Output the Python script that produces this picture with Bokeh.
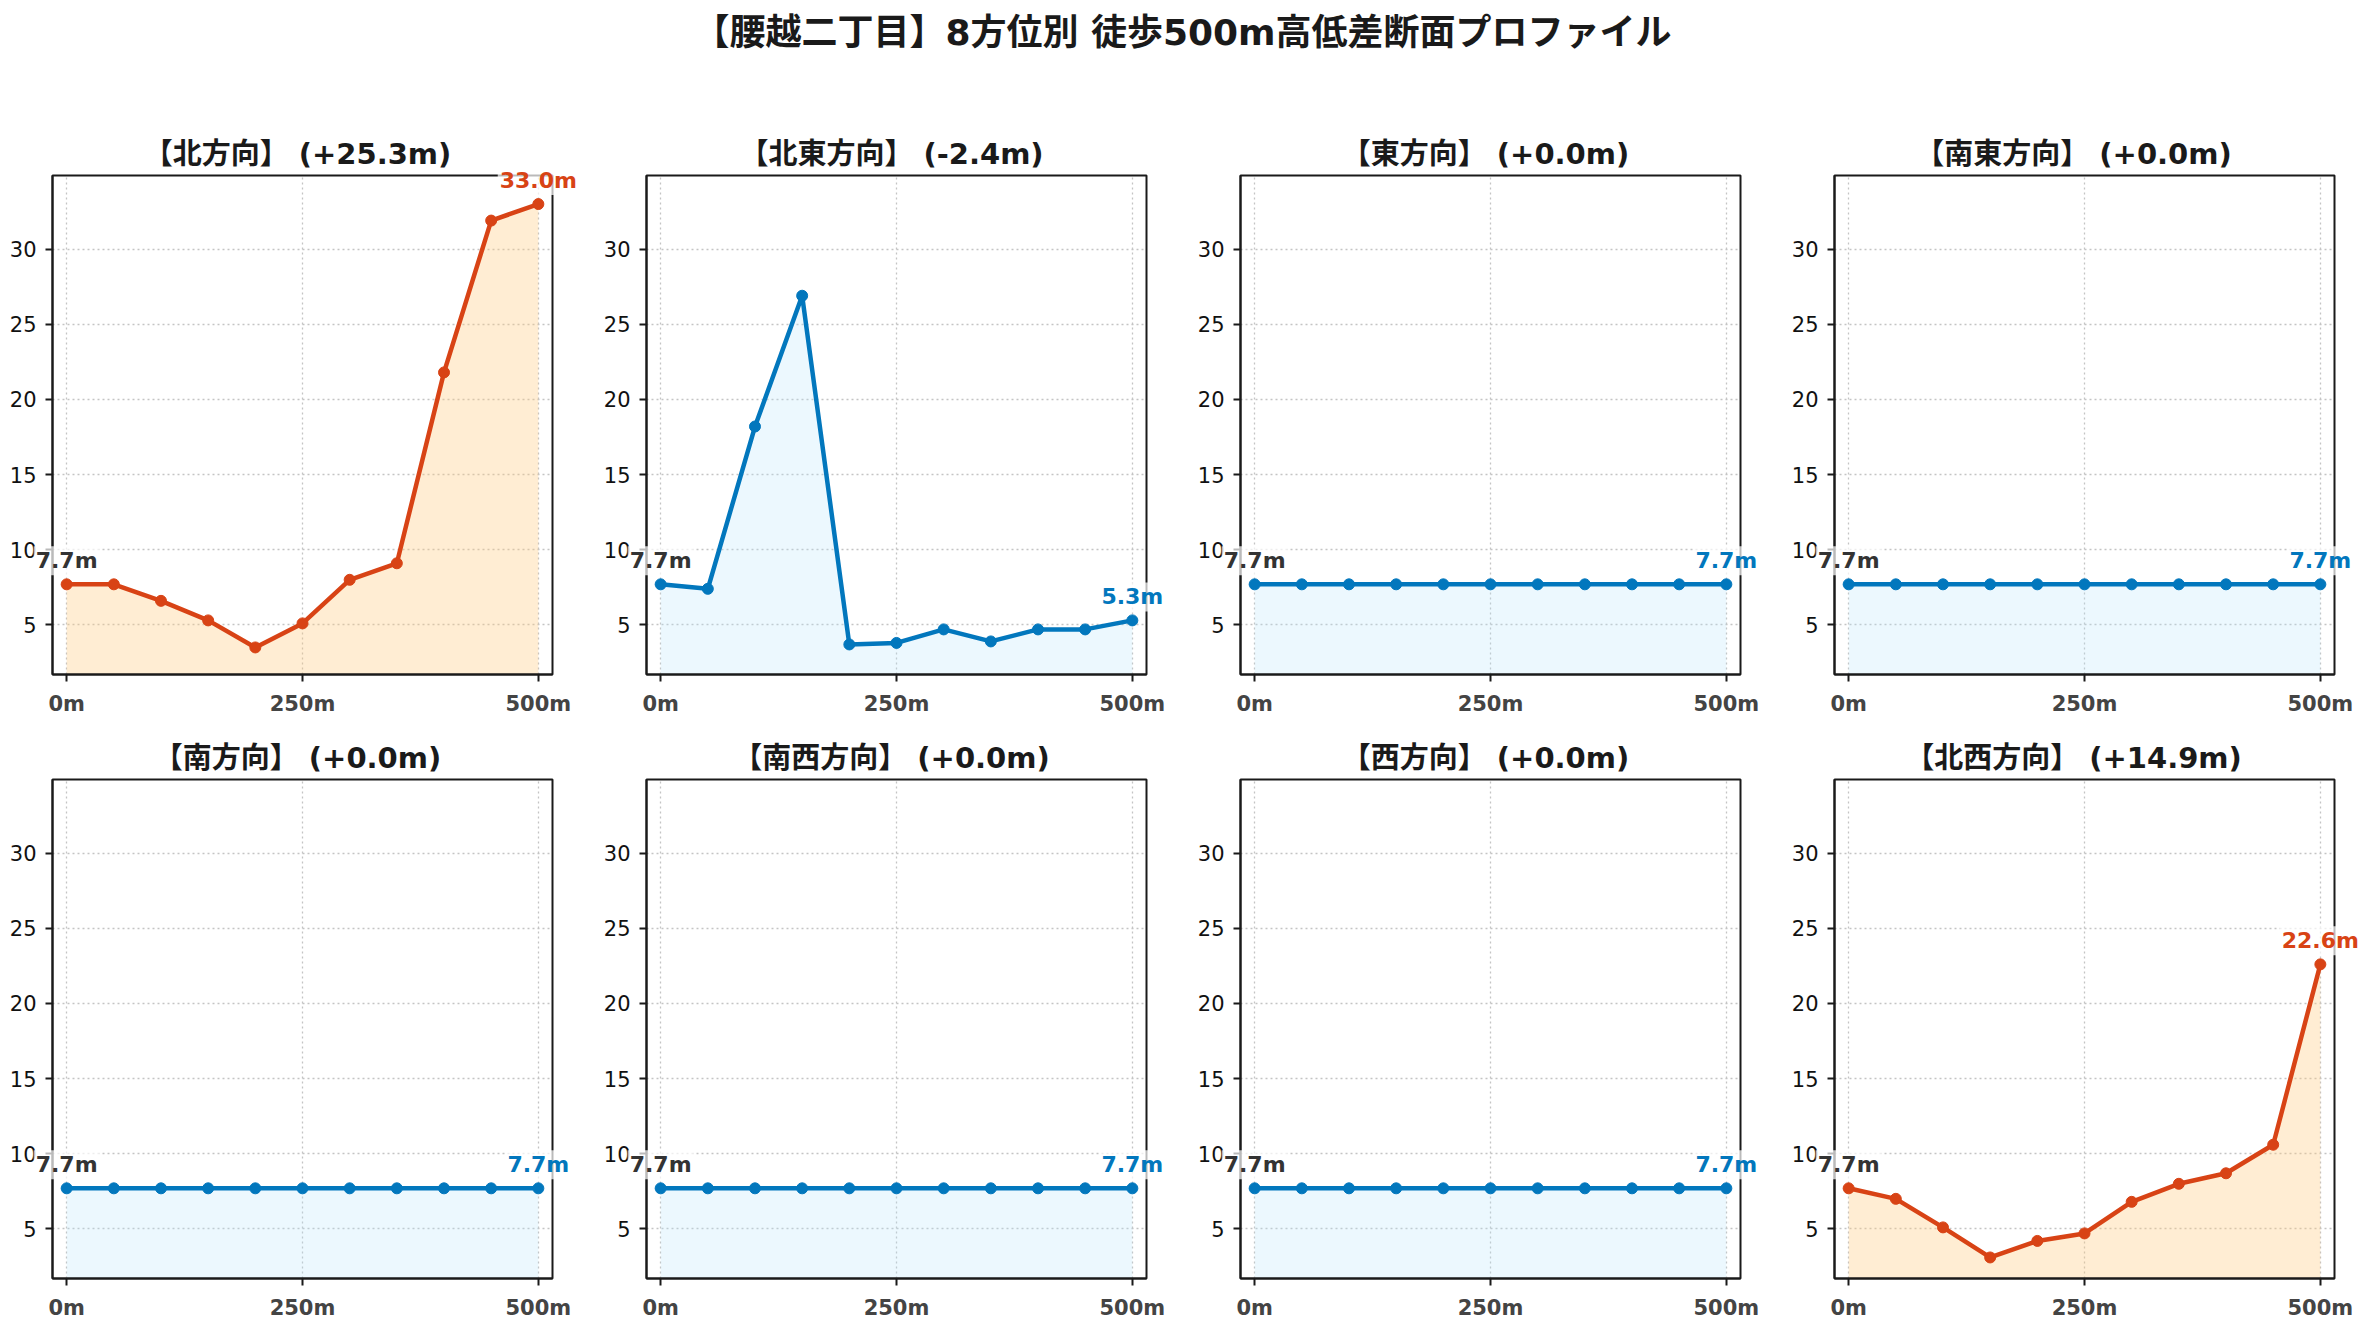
from bokeh.plotting import figure
from bokeh.models import Range1d, FixedTicker, Label, BoxAnnotation
from bokeh.layouts import column, row
from bokeh.embed import file_html
from bokeh.resources import INLINE

# 腰越二丁目: elevation profiles (m) every 50 m along 8 bearings
FONT = "'DejaVu Sans', 'Noto Sans CJK JP'"

distances = [0, 50, 100, 150, 200, 250, 300, 350, 400, 450, 500]
directions = ["北", "北東", "東", "南東", "南", "南西", "西", "北西"]

elev_n = [7.7, 7.7, 6.6, 5.3, 3.5, 5.1, 8.0, 9.1, 21.8, 31.9, 33.0]
elev_ne = [7.7, 7.4, 18.2, 26.9, 3.7, 3.8, 4.7, 3.9, 4.7, 4.7, 5.3]
elev_e = [7.7, 7.7, 7.7, 7.7, 7.7, 7.7, 7.7, 7.7, 7.7, 7.7, 7.7]
elev_se = [7.7, 7.7, 7.7, 7.7, 7.7, 7.7, 7.7, 7.7, 7.7, 7.7, 7.7]
elev_s = [7.7, 7.7, 7.7, 7.7, 7.7, 7.7, 7.7, 7.7, 7.7, 7.7, 7.7]
elev_sw = [7.7, 7.7, 7.7, 7.7, 7.7, 7.7, 7.7, 7.7, 7.7, 7.7, 7.7]
elev_w = [7.7, 7.7, 7.7, 7.7, 7.7, 7.7, 7.7, 7.7, 7.7, 7.7, 7.7]
elev_nw = [7.7, 7.0, 5.1, 3.1, 4.2, 4.7, 6.8, 8.0, 8.7, 10.6, 22.6]
profiles = [elev_n, elev_ne, elev_e, elev_se, elev_s, elev_sw, elev_w, elev_nw]

xtick_vals = [0, 250, 500]
xtick_labels = ["0m", "250m", "500m"]
ytick_vals = [5, 10, 15, 20, 25, 30]

X_LO, X_HI = -15, 515      # axes box limits
Y_LO, Y_HI = 1.7, 34.9

UP_LINE, UP_FILL = "#D84315", "#FFCC80"
DOWN_LINE, DOWN_FILL = "#0277BD", "#B3E5FC"

col_widths = [594, 594, 594, 582]
row_heights = [604, 599]
BOX_L, BOX_W = 52, 500     # axes box inside each cell (px)
BOX_T, BOX_H = 54, 499
TITLE_H = 49               # space kept for the panel title


def make_panel(name, elev, ci, ri):
    change = elev[-1] - elev[0]
    line_c, fill_c = (UP_LINE, UP_FILL) if change > 0 else (DOWN_LINE, DOWN_FILL)
    w = col_widths[ci]
    h = row_heights[ri]
    # the frame fills the cell so that the end labels are not cut off;
    # the axes box is drawn at a fixed place inside it
    kx = BOX_W / (X_HI - X_LO)
    ky = BOX_H / (Y_HI - Y_LO)
    xr = Range1d(X_LO - BOX_L / kx, X_HI + (w - BOX_L - BOX_W) / kx)
    yr = Range1d(Y_LO - (h - BOX_T - BOX_H) / ky, Y_HI + (BOX_T - TITLE_H) / ky)
    p = figure(width=w, height=h, output_backend="svg", toolbar_location=None,
               x_range=xr, y_range=yr,
               min_border_left=0, min_border_right=0,
               min_border_top=TITLE_H, min_border_bottom=0,
               title=f"【{name}方向】 ({change:+.1f}m)")
    p.title.align = "center"
    p.title.standoff = 0
    p.title.text_font = FONT
    p.title.text_font_size = "29px"
    p.title.text_font_style = "bold"
    p.title.text_color = "#1a1a1a"
    p.outline_line_color = None

    p.varea(x=distances, y1=Y_LO, y2=elev, fill_color=fill_c,
            fill_alpha=0.35 if change > 0 else 0.25)
    p.line(distances, elev, line_color=line_c, line_width=4.5)
    p.scatter(distances, elev, marker="circle", size=11, color=line_c)

    p.add_layout(BoxAnnotation(left=X_LO, right=X_HI, bottom=Y_LO, top=Y_HI,
                               fill_alpha=0, line_color="#1a1a1a", line_alpha=1,
                               line_width=2))

    # start / end labels
    for xv, yv, tc in [(distances[0], elev[0], "#333333"), (distances[-1], elev[-1], line_c)]:
        p.add_layout(Label(x=xv, y=yv, text=f"{yv:.1f}m", y_offset=9,
                           text_align="center", text_baseline="bottom",
                           text_font=FONT, text_font_size="22px", text_font_style="bold",
                           text_color=tc, background_fill_color="white",
                           background_fill_alpha=0.7, padding=2))

    p.xaxis.fixed_location = Y_LO
    p.xaxis.bounds = (X_LO, X_HI)
    p.xaxis.ticker = FixedTicker(ticks=xtick_vals)
    p.xaxis.major_label_overrides = dict(zip(xtick_vals, xtick_labels))
    p.xaxis.major_label_text_font_style = "bold"
    p.xaxis.major_label_text_color = "#444444"
    p.xaxis.major_label_text_font_size = "21px"
    p.xaxis.major_label_standoff = 10
    p.yaxis.fixed_location = X_LO
    p.yaxis.bounds = (Y_LO, Y_HI)
    p.yaxis.ticker = FixedTicker(ticks=ytick_vals)
    p.yaxis.major_label_text_color = "#111111"
    p.yaxis.major_label_text_font_size = "21px"
    p.yaxis.major_label_standoff = 9
    for ax in (p.xaxis, p.yaxis):
        ax.major_label_text_font = FONT
        ax.axis_line_color = "#1a1a1a"
        ax.axis_line_width = 2
        ax.major_tick_line_width = 2
        ax.major_tick_line_color = "#1a1a1a"
        ax.major_tick_in = 0
        ax.major_tick_out = 7
        ax.minor_tick_line_color = None
    p.xgrid.cross_bounds = (Y_LO, Y_HI)
    p.ygrid.cross_bounds = (X_LO, X_HI)
    p.grid.grid_line_color = "#c4c4c4"
    p.grid.grid_line_dash = "2 3"
    p.grid.grid_line_width = 1.3
    return p


head = figure(width=2364, height=121, output_backend="svg", toolbar_location=None,
              x_axis_location=None, y_axis_location=None,
              min_border_top=57, min_border_bottom=0, min_border_left=0, min_border_right=0,
              title="【腰越二丁目】8方位別 徒歩500m高低差断面プロファイル")
head.title.align = "center"
head.title.text_font = FONT
head.title.text_font_size = "36px"
head.title.text_font_style = "bold"
head.title.text_color = "#1a1a1a"
head.outline_line_color = None
head.grid.visible = False

panels = [make_panel(d, e, i % 4, i // 4) for i, (d, e) in enumerate(zip(directions, profiles))]
layout = column(head, row(*panels[:4]), row(*panels[4:]))

open("out.html", "w").write(file_html(layout, INLINE))
